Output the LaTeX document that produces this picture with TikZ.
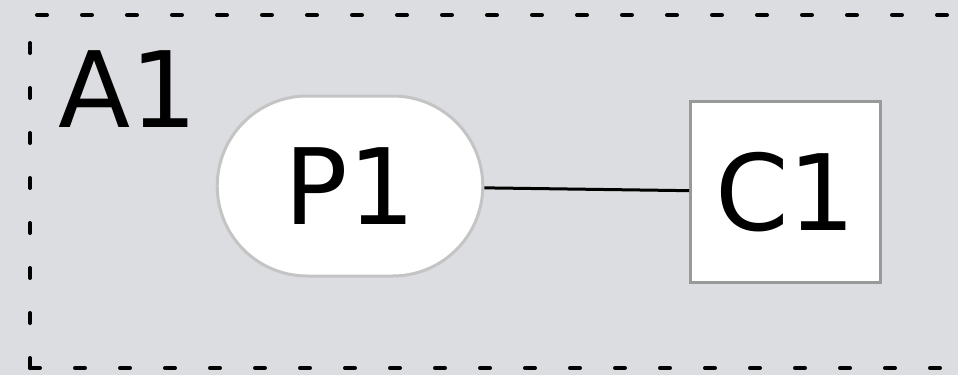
\documentclass[tikz,border=0pt]{standalone}
\usepackage{fontspec}
\setmainfont{DejaVu Sans}
\usepackage{tikz}
\usetikzlibrary{shapes.misc}
\definecolor{areabg}{HTML}{DCDDE0}
\definecolor{procline}{HTML}{C4C4C4}
\definecolor{compline}{HTML}{999999}
\tikzset{
	bigtext/.style={font=\fontsize{30}{36}\selectfont},
	procbox/.style={rounded rectangle, draw=procline, line width=0.3mm, fill=white, minimum width=28.9mm, minimum height=18mm, bigtext},
	compbox/.style={rectangle, draw=compline, line width=0.3mm, fill=white, minimum width=19mm, minimum height=18.1mm, bigtext},
}

\begin{document}
\begin{tikzpicture}[x=0.1mm, y=-0.1mm]
			%%%%% START %%%%%
			
			\clip (0, 0) rectangle (958, 375);
			\fill[areabg] (0, 0) rectangle (958, 375);
			
			\draw[line width=0.4mm, line cap=round, dash pattern=on 1mm off 3.5mm] (30, 368) -- (30, 15) -- (1100, 15);
			\draw[line width=0.4mm, line cap=round, dash pattern=on 1mm off 3.5mm] (30, 368) -- (1100, 368);
			
			\node[bigtext, anchor=base west, inner sep=0pt] (a1) at (58, 127) {A1};
			
			\node[procbox] (p1) at (350, 186) {P1};
			\node[compbox] (c1) at (785.5, 192) {C1};
			
			\draw[line width=0.3mm] (p1) -- (c1);
			
			%%%%% END %%%%%
		\end{tikzpicture}
\end{document}
